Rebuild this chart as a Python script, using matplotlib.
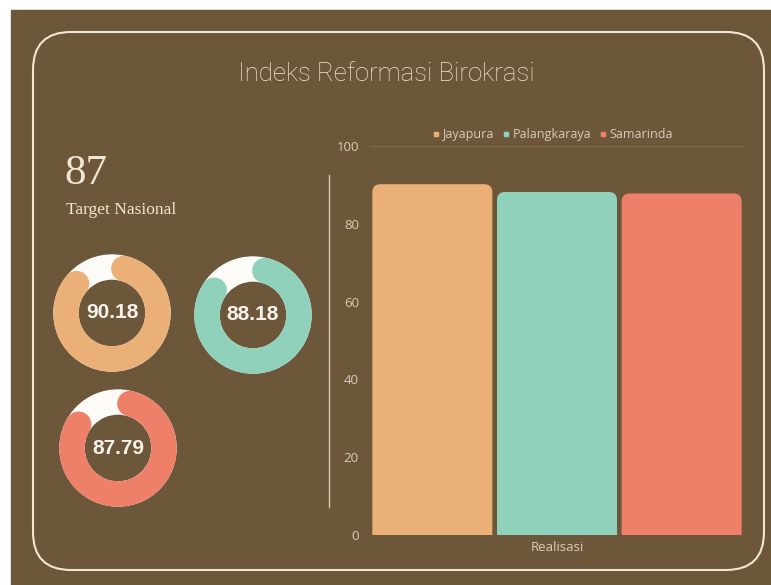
import numpy as np
import matplotlib
matplotlib.use("Agg")
import matplotlib.pyplot as plt
from matplotlib.patches import Rectangle, FancyBboxPatch, Wedge, Circle
from matplotlib.lines import Line2D

# --- Data ---
CITIES = ["Jayapura", "Palangkaraya", "Samarinda"]
SCORES = [90.18, 88.18, 87.79]
CATEGORY = "Realisasi"
TARGET = 87
TITLE = "Indeks Reformasi Birokrasi"
Y_TICKS = [0, 20, 40, 60, 80, 100]

# --- Style ---
BG = "#6C573A"
CREAM = "#F0E6D3"
TICK_COL = "#D8CDBB"
COLORS = ["#EBB077", "#8FD1BA", "#EE8069"]

W, H = 771, 585
fig = plt.figure(figsize=(W / 100, H / 100), dpi=100, facecolor="white")


def frac(x, y, w, h):
    """pixel box (top-left origin) -> figure fraction rect"""
    return [x / W, (H - y - h) / H, w / W, h / H]


# background panel in pixel units
bg = fig.add_axes([0, 0, 1, 1])
bg.set_xlim(0, W)
bg.set_ylim(H, 0)
bg.axis("off")
bg.add_patch(Rectangle((11, 10), W - 11, H - 10, color=BG, zorder=0))
bg.add_patch(FancyBboxPatch((33, 32), 764 - 33, 570 - 32,
                            boxstyle="round,pad=0,rounding_size=38",
                            fill=False, ec=CREAM, lw=1.5, zorder=1))
bg.plot([329, 329], [175, 507], color=CREAM, lw=1.0, alpha=0.8, zorder=1)

bg.text(386, 74, TITLE, ha="center", va="center", fontsize=18.5,
        family="Roboto", weight="light", color=CREAM)
bg.text(64, 174, str(TARGET), ha="left", va="center", fontsize=31,
        family="Liberation Serif", color=CREAM)
bg.text(66, 210, "Target Nasional", ha="left", va="center", fontsize=12.5,
        family="Liberation Serif", color=CREAM)

# --- donut gauges ---
donut_centers = [(112, 313), (253, 315), (118, 448)]
R_OUT, R_IN = 58, 34
for (cx, cy), val, col in zip(donut_centers, SCORES, COLORS):
    ax = fig.add_axes(frac(cx - 60, cy - 60, 120, 120))
    ax.set_xlim(-60, 60)
    ax.set_ylim(-60, 60)
    ax.set_aspect("equal")
    ax.axis("off")
    width = R_OUT - R_IN
    mid = (R_OUT + R_IN) / 2
    ax.add_patch(Wedge((0, 0), R_OUT, 0, 360, width=width, color="#FDFBF8"))
    # arc runs clockwise from 12 o'clock, round ends sit inside the arc
    span = val / 100 * 360
    inset = np.degrees((width / 2) / mid)
    t1, t2 = 90 - span + inset, 90 - inset
    ax.add_patch(Wedge((0, 0), R_OUT, t1, t2, width=width, color=col))
    for t in (t1, t2):
        a = np.radians(t)
        ax.add_patch(Circle((mid * np.cos(a), mid * np.sin(a)), width / 2, color=col))
    ax.text(0, 0, f"{val:.2f}", ha="center", va="center", fontsize=15,
            family="Liberation Sans", weight="bold", color="#F7F2EA")

# --- bar chart ---
left, right, top, bottom = 370, 744, 146, 535
bx = fig.add_axes(frac(left, top, right - left, bottom - top))
bx.set_facecolor("none")
bx.set_xlim(-0.5, len(CITIES) - 0.5)
bx.set_ylim(0, 100)
for s in bx.spines.values():
    s.set_visible(False)
bx.axhline(100, color="#7E6A4C", lw=0.8, zorder=0)

px_x = (right - left) / len(CITIES)      # pixels per x unit
px_y = (bottom - top) / 100               # pixels per y unit
bar_w = 120 / px_x
r = 8 / px_x
for i, (val, col) in enumerate(zip(SCORES, COLORS)):
    # rounded box starting below zero; the axes clip the lower corners
    bx.add_patch(FancyBboxPatch((i - bar_w / 2, -5), bar_w, val + 5,
                                boxstyle=f"round,pad=0,rounding_size={r}",
                                mutation_aspect=px_x / px_y,
                                fc=col, ec="none", zorder=2))

bx.set_yticks(Y_TICKS)
bx.set_xticks([])
bx.tick_params(axis="y", length=0, pad=8, labelsize=9.5, labelcolor=TICK_COL)
for lab in bx.get_yticklabels():
    lab.set_family("Open Sans")
bx.set_xlabel(CATEGORY, fontsize=9.5, color=TICK_COL, family="Open Sans", labelpad=4)

handles = [Line2D([], [], marker="s", ls="none", ms=3, color=c) for c in COLORS]
bx.legend(handles, CITIES, loc="lower center", bbox_to_anchor=(0.49, 1.0), ncol=3,
          frameon=False, handlelength=0.4, handletextpad=0.3, columnspacing=0.8,
          prop={"family": "Open Sans", "size": 9}, labelcolor=TICK_COL,
          borderaxespad=0.0)

fig.savefig("out.png", dpi=100, facecolor="white")
